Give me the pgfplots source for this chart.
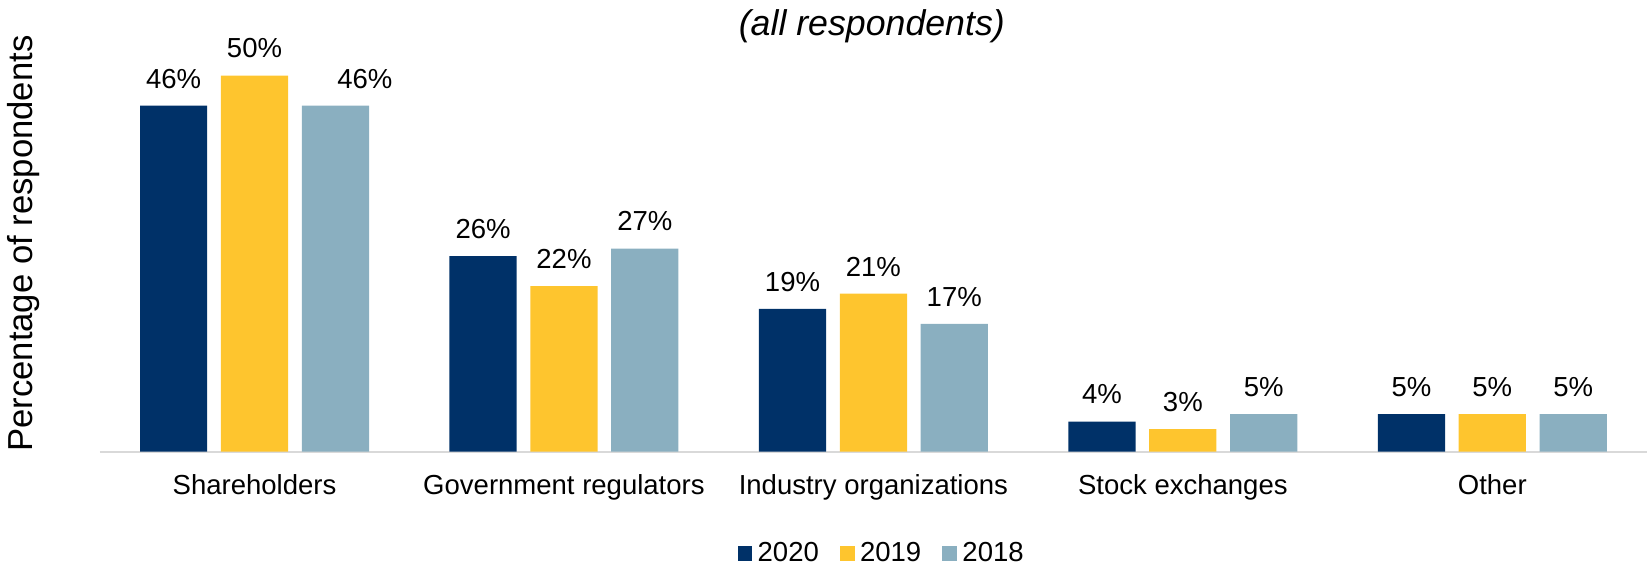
\documentclass[border=0pt]{standalone}
\usepackage{fontspec}
\setmainfont{Liberation Sans}
\usepackage{pgfplots}
\pgfplotsset{compat=1.18}
\definecolor{c2020}{HTML}{003168}
\definecolor{c2019}{HTML}{FEC52E}
\definecolor{c2018}{HTML}{8AAFC0}
\definecolor{axgray}{HTML}{D9D9D9}
\newcommand{\chfont}{\fontsize{13.1}{15.5}\selectfont}
\begin{document}
\begin{tikzpicture}
\useasboundingbox (0,0) rectangle (784pt,273pt);
\begin{axis}[
 at={(47.5pt,58pt)}, anchor=south west,
 scale only axis, width=736.5pt, height=179pt,
 ymin=0, ymax=50, xmin=-0.5, xmax=4.5,
 clip=false,
 ybar=6.5pt, bar width=32pt,
 axis y line=none, axis x line*=bottom,
 x axis line style={axgray, line width=1pt, -},
 xtick={0,1,2,3,4}, major tick length=0pt,
 xticklabels={Shareholders, Government regulators, Industry organizations, Stock exchanges, Other},
 xticklabel style={font=\chfont, anchor=base, yshift=-20.2pt},
 /pgf/number format/assume math mode=true,
 nodes near coords={\pgfmathprintnumber{\pgfplotspointmeta}\%},
 every node near coord/.append style={font=\chfont, anchor=base, yshift=8.4pt, inner sep=0pt},
 legend columns=3,
 legend style={at={(0.505,0)}, anchor=north, yshift=-40.5pt, draw=none,
  font=\chfont, nodes={inner sep=0.5pt},
  /tikz/every odd column/.append style={column sep=2pt},
  /tikz/every even column/.append style={column sep=9.5pt}},
 legend image code/.code={\fill (0pt,-3.55pt) rectangle (7.1pt,3.55pt);},
]
\addplot[fill=c2020, draw=none] coordinates {(0,46) (1,26) (2,19) (3,4) (4,5)};
\addplot[fill=c2019, draw=none] coordinates {(0,50) (1,22) (2,21) (3,3) (4,5)};
\addplot[fill=c2018, draw=none,
 visualization depends on={x \as \xv},
 every node near coord/.append style={xshift={(\xv<0.5)*14pt}}]
 coordinates {(0,46) (1,27) (2,17) (3,5) (4,5)};
\legend{2020, 2019, 2018}
\end{axis}
\node[rotate=90, font=\fontsize{16.5}{19}\selectfont] at (11pt,157pt) {Percentage of respondents};
\node[anchor=base, font=\fontsize{17}{21}\selectfont\itshape] at (415pt,256pt) {(all respondents)};
\end{tikzpicture}
\end{document}
